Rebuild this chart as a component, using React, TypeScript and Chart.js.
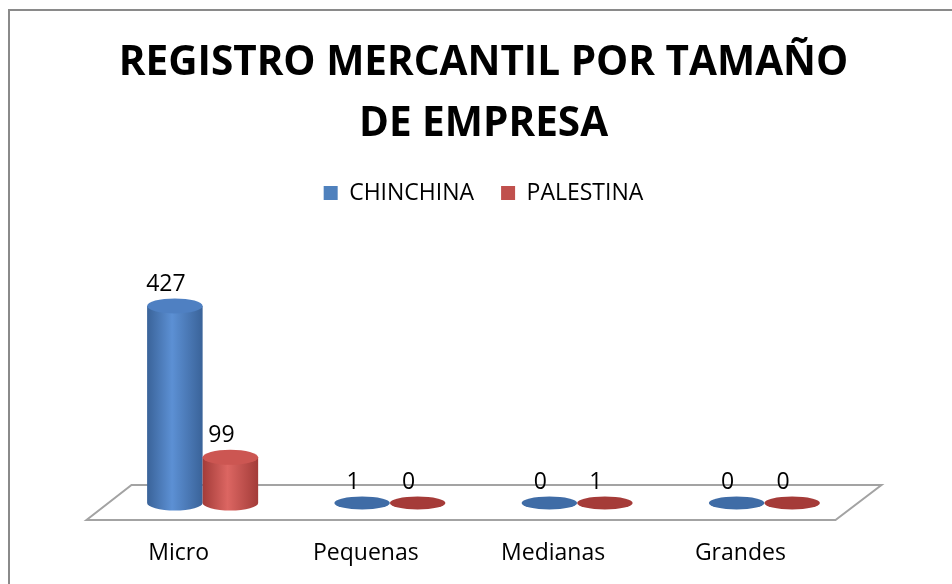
import React, { useEffect, useRef } from "react";
import { Chart, registerables } from "chart.js";

Chart.register(...registerables);

const categories = ["Micro", "Pequenas", "Medianas", "Grandes"];
const chinchinaValues = [427, 1, 0, 0];
const palestinaValues = [99, 0, 1, 0];
const seriesNames = ["CHINCHINA", "PALESTINA"];
const titleLines = ["REGISTRO MERCANTIL POR TAMAÑO", "DE EMPRESA"];

const FONT = "'Open Sans', 'Liberation Sans', sans-serif";

const palettes = [
  { legend: "#4f81bd", dark: "#3a6399", light: "#5c90d4", top: "#4f80c2", flat: "#3f6ca6" },
  { legend: "#c0504d", dark: "#a33c39", light: "#dc6662", top: "#cc5652", flat: "#a53b38" },
];

const cylinderPlugin = {
  id: "cylinders",
  beforeDatasetsDraw(chart: any) {
    const { ctx, chartArea, scales } = chart;
    const baseY = scales.y.getPixelForValue(0);
    // floor parallelogram
    const d = 22.5;
    ctx.save();
    ctx.strokeStyle = "#a3a3a3";
    ctx.lineWidth = 2;
    ctx.beginPath();
    ctx.moveTo(chartArea.left + d, baseY - 18);
    ctx.lineTo(chartArea.right + d + 1, baseY - 18);
    ctx.lineTo(chartArea.right - d, baseY + 17);
    ctx.lineTo(chartArea.left - d, baseY + 17);
    ctx.closePath();
    ctx.stroke();
    ctx.restore();

    chart.data.datasets.forEach((ds: any, di: number) => {
      const meta = chart.getDatasetMeta(di);
      const pal = palettes[di];
      meta.data.forEach((bar: any, i: number) => {
        const { x, y, base, width } = bar.getProps(["x", "y", "base", "width"], true);
        const rx = width / 2;
        const ry = 7.5;
        const h = base - y;
        ctx.save();
        if (h < 2) {
          ctx.fillStyle = pal.flat;
          ctx.beginPath();
          ctx.ellipse(x, base, rx, 6.5, 0, 0, Math.PI * 2);
          ctx.fill();
        } else {
          const g = ctx.createLinearGradient(x - rx, 0, x + rx, 0);
          g.addColorStop(0, pal.dark);
          g.addColorStop(0.45, pal.light);
          g.addColorStop(1, pal.dark);
          ctx.fillStyle = g;
          ctx.beginPath();
          ctx.moveTo(x - rx, y);
          ctx.lineTo(x - rx, base);
          ctx.ellipse(x, base, rx, ry, 0, Math.PI, 0, true);
          ctx.lineTo(x + rx, y);
          ctx.closePath();
          ctx.fill();
          ctx.fillStyle = pal.top;
          ctx.beginPath();
          ctx.ellipse(x, y, rx, ry, 0, 0, Math.PI * 2);
          ctx.fill();
        }
        ctx.restore();
        // value label
        const v = ds.data[i];
        ctx.save();
        ctx.fillStyle = "#000";
        ctx.font = `23px ${FONT}`;
        ctx.textAlign = "center";
        ctx.textBaseline = "middle";
        const ty = (h < 2 ? base - 6.5 : y - ry) - 14;
        ctx.fillText(String(v), x - 9, ty);
        ctx.restore();
      });
    });
    return false;
  },
};

export default function App() {
  const canvasRef = useRef<HTMLCanvasElement | null>(null);

  useEffect(() => {
    const canvas = canvasRef.current;
    if (!canvas) return;
    const chart = new Chart(canvas, {
      type: "bar",
      data: {
        labels: categories,
        datasets: [
          { label: seriesNames[0], data: chinchinaValues, backgroundColor: palettes[0].legend, borderWidth: 0 },
          { label: seriesNames[1], data: palestinaValues, backgroundColor: palettes[1].legend, borderWidth: 0 },
        ],
      },
      options: {
        responsive: false,
        animation: false,
        events: [],
        layout: { padding: { left: 109, right: 94, top: 0, bottom: 16 } },
        datasets: { bar: { barPercentage: 1, categoryPercentage: 0.593 } },
        plugins: {
          title: {
            display: true,
            text: titleLines,
            color: "#000",
            font: { family: FONT, size: 40.5, weight: "bold", lineHeight: 1.5 },
            padding: { top: 33, bottom: 0 },
          },
          legend: {
            display: true,
            position: "top",
            labels: {
              color: "#000",
              font: { family: FONT, size: 23 },
              boxWidth: 14,
              boxHeight: 14,
              padding: 27,
            },
          },
          tooltip: { enabled: false },
        },
        scales: {
          x: {
            grid: { display: false, drawTicks: false },
            border: { display: false },
            afterFit: (axis: any) => {
              axis.height = 65;
            },
            ticks: {
              color: "#000",
              font: { family: FONT, size: 23 },
              padding: 37,
              labelOffset: -24,
              maxRotation: 0,
            },
          },
          y: { display: false, min: 0, max: 625 },
        },
      },
      plugins: [cylinderPlugin],
    });
    return () => chart.destroy();
  }, []);

  return (
    <div style={{ position: "fixed", left: 0, top: 0, width: 952, height: 584, background: "#fff", overflow: "hidden" }}>
      <div
        style={{
          position: "absolute",
          left: 8,
          top: 9,
          width: 1000,
          height: 700,
          borderLeft: "2px solid #8a8a8a",
          borderTop: "2px solid #8a8a8a",
        }}
      />
      <canvas
        ref={canvasRef}
        width={952}
        height={584}
        style={{ position: "absolute", left: 0, top: 0, width: 952, height: 584 }}
      />
    </div>
  );
}
